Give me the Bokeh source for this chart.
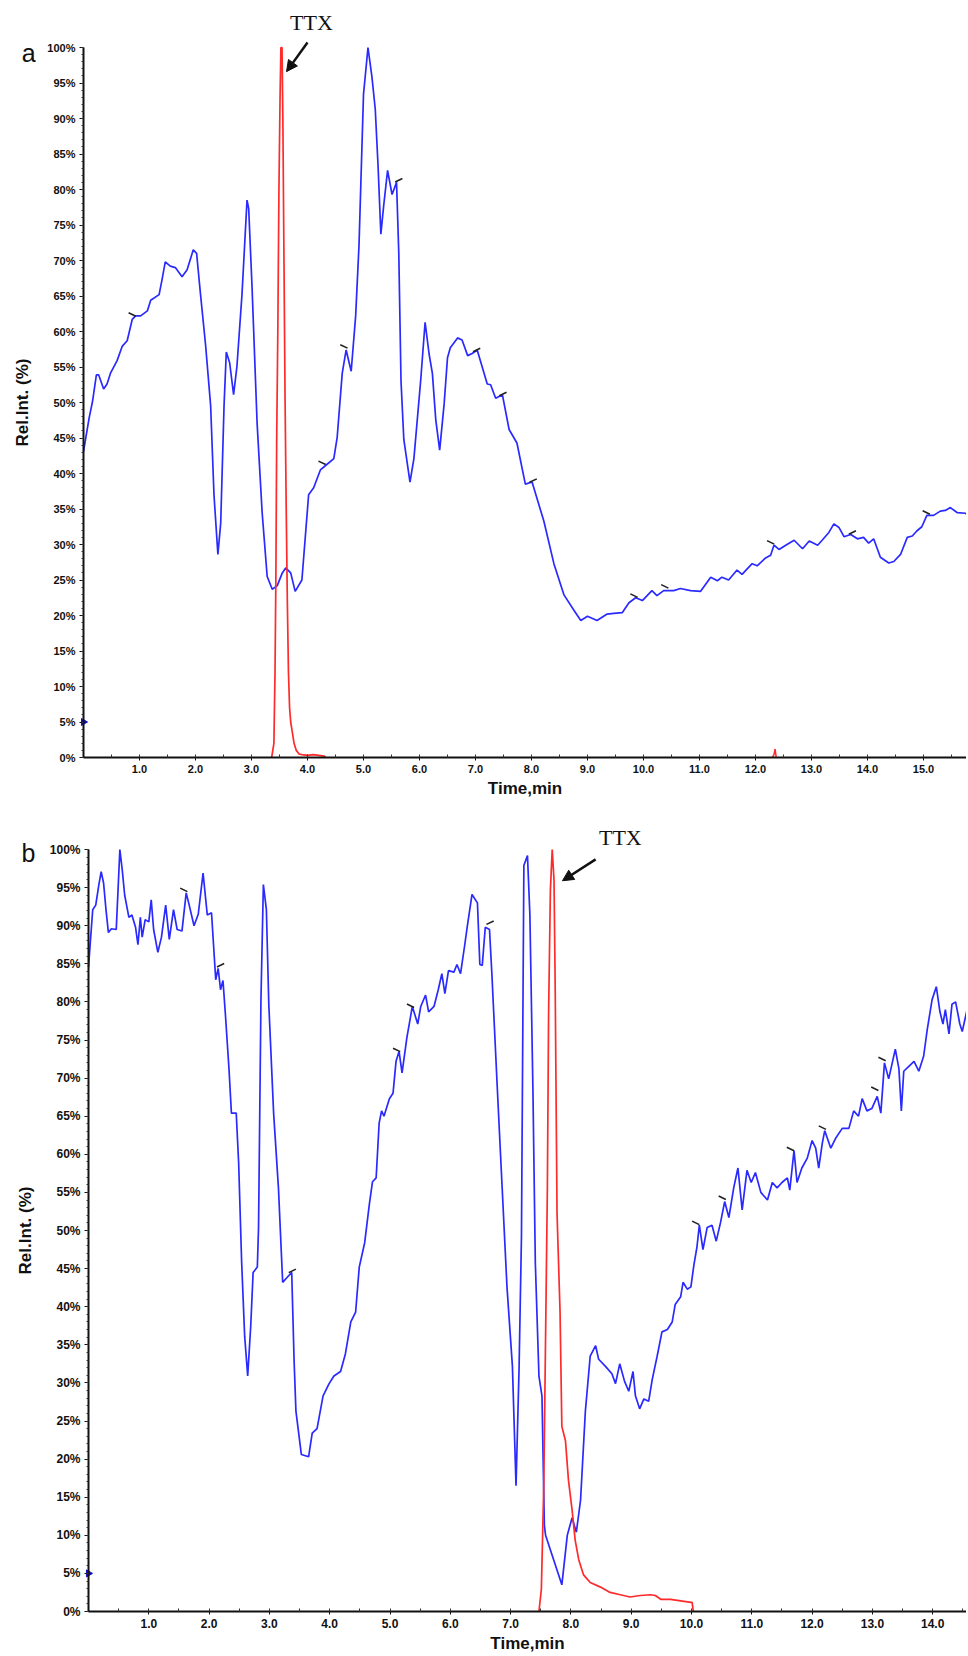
from bokeh.plotting import figure
from bokeh.layouts import column
from bokeh.models import (Range1d, FixedTicker, PrintfTickFormatter, Label, Arrow, NormalHead,
                          LinearAxis)
from bokeh.embed import file_html
from bokeh.resources import INLINE

# ---------------- data: panel a ----------------
a_blue_t = [0.00, 0.10, 0.16, 0.23, 0.27, 0.36, 0.42, 0.48, 0.60, 0.69, 0.78, 0.87, 0.93, 1.02, 1.14, 1.20,
            1.35, 1.40, 1.46, 1.55, 1.64, 1.76, 1.85, 1.96, 2.02, 2.09, 2.18, 2.27, 2.33, 2.40, 2.45, 2.51,
            2.55, 2.61, 2.68, 2.74, 2.83, 2.92, 2.95, 3.01, 3.10, 3.19, 3.28, 3.37, 3.46, 3.55, 3.61, 3.70,
            3.78, 3.90, 4.02, 4.11, 4.23, 4.35, 4.47, 4.53, 4.62, 4.69, 4.78, 4.86, 4.92, 5.00, 5.08, 5.15,
            5.21, 5.26, 5.31, 5.36, 5.43, 5.51, 5.59, 5.63, 5.67, 5.72, 5.83, 5.90, 6.02, 6.10, 6.17, 6.23,
            6.29, 6.36, 6.44, 6.50, 6.55, 6.68, 6.76, 6.86, 6.94, 7.03, 7.21, 7.27, 7.36, 7.48, 7.60, 7.74,
            7.89, 8.01, 8.22, 8.40, 8.58, 8.76, 8.88, 9.00, 9.17, 9.35, 9.47, 9.62, 9.74, 9.86, 9.98, 10.15,
            10.24, 10.36, 10.54, 10.66, 10.84, 11.02, 11.20, 11.32, 11.40, 11.52, 11.67, 11.76, 11.94, 12.03,
            12.18, 12.27, 12.33, 12.42, 12.54, 12.69, 12.84, 12.96, 13.11, 13.19, 13.31, 13.40, 13.49, 13.58,
            13.70, 13.82, 13.93, 14.02, 14.11, 14.23, 14.38, 14.47, 14.59, 14.71, 14.80, 14.88, 14.97, 15.06,
            15.18, 15.30, 15.39, 15.48, 15.60, 15.75, 15.80]
a_blue_pct = [43.1, 47.8, 50.1, 53.9, 53.9, 51.9, 52.6, 54.1, 55.9, 57.9, 58.7, 61.7, 62.2, 62.2, 62.9, 64.4,
              65.2, 67.2, 69.8, 69.2, 69.0, 67.7, 68.7, 71.5, 71.0, 65.2, 58.1, 49.6, 37.0, 28.6, 33.0, 49.6,
              57.1, 55.6, 51.1, 55.1, 65.2, 78.5, 77.3, 66.2, 47.1, 34.5, 25.5, 23.7, 24.2, 26.0, 26.7, 26.0,
              23.4, 25.0, 37.0, 38.0, 40.5, 41.3, 42.1, 45.1, 54.1, 57.4, 54.4, 62.2, 72.2, 93.4, 100.0, 95.9,
              91.3, 83.3, 73.7, 77.7, 82.7, 79.3, 81.0, 71.1, 53.0, 44.8, 38.8, 42.1, 53.0, 61.3, 56.9, 54.1,
              47.6, 43.3, 49.8, 56.3, 57.7, 59.1, 58.8, 56.6, 56.9, 57.4, 52.6, 52.5, 50.6, 51.1, 46.2, 44.3,
              38.5, 38.8, 33.3, 27.3, 22.9, 20.7, 19.3, 19.9, 19.3, 20.2, 20.3, 20.4, 21.8, 22.5, 22.1, 23.5,
              22.8, 23.5, 23.5, 23.8, 23.5, 23.4, 25.4, 24.9, 25.4, 25.0, 26.4, 25.8, 27.3, 27.0,
              28.1, 28.5, 29.9, 29.3, 29.9, 30.6, 29.4, 30.5, 29.9, 30.6, 31.7, 32.9, 32.4, 31.1,
              31.4, 30.8, 31.0, 30.2, 30.8, 28.2, 27.4, 27.6, 28.6, 31.0, 31.2, 31.9, 32.5, 34.1,
              34.1, 34.7, 34.8, 35.2, 34.5, 34.4, 34.0]

a_red_t = [3.36, 3.40, 3.42, 3.435, 3.45, 3.47, 3.49, 3.51, 3.525, 3.545, 3.56, 3.58, 3.60, 3.62, 3.64,
           3.66, 3.68, 3.70, 3.73, 3.76, 3.80, 3.85, 3.90, 4.00, 4.10, 4.20, 4.30, 4.32]
a_red_pct = [0.0, 2.0, 12.0, 25.0, 45.0, 60.0, 80.0, 93.0, 100.0, 100.0, 90.0, 70.0, 50.0, 35.0, 22.0,
             12.0, 7.0, 5.0, 3.5, 2.0, 1.0, 0.5, 0.4, 0.3, 0.4, 0.3, 0.2, 0.0]
a_red2_t = [12.30, 12.33, 12.35, 12.37]
a_red2_pct = [0.0, 0.4, 1.2, 0.0]

# peak-label ticks (small black dashes) in panel a
a_mark_back_t = [0.87, 4.26, 4.65, 9.83, 10.38, 12.27, 15.05]
a_mark_back_pct = [62.4, 41.5, 57.9, 22.8, 24.1, 30.3, 34.5]
a_mark_fwd_t = [5.63, 7.02, 7.49, 8.03, 13.73]
a_mark_fwd_pct = [81.3, 57.4, 51.2, 39.0, 31.7]

# ---------------- data: panel b ----------------
b_blue_t = [0.00, 0.07, 0.12, 0.17, 0.21, 0.25, 0.29, 0.33, 0.38, 0.46, 0.49, 0.52, 0.56, 0.60, 0.67, 0.72,
            0.78, 0.82, 0.86, 0.89, 0.94, 1.00, 1.04, 1.08, 1.15, 1.21, 1.28, 1.34, 1.41, 1.47, 1.55, 1.62,
            1.67, 1.75, 1.82, 1.90, 1.97, 2.04, 2.11, 2.15, 2.19, 2.23, 2.27, 2.33, 2.37, 2.45, 2.49, 2.54,
            2.59, 2.64, 2.69, 2.73, 2.80, 2.82, 2.86, 2.90, 2.95, 2.99, 3.07, 3.15, 3.22, 3.30, 3.37, 3.41,
            3.44, 3.53, 3.65, 3.71, 3.79, 3.89, 3.99, 4.07, 4.18, 4.26, 4.35, 4.43, 4.49, 4.58, 4.66, 4.71,
            4.77, 4.82, 4.86, 4.90, 4.99, 5.05, 5.10, 5.15, 5.20, 5.28, 5.37, 5.46, 5.51, 5.59, 5.64, 5.73,
            5.80, 5.86, 5.91, 5.97, 6.06, 6.11, 6.17, 6.24, 6.28, 6.36, 6.45, 6.49, 6.53, 6.58, 6.65, 6.69,
            6.78, 6.86, 6.94, 7.03, 7.09, 7.14, 7.18, 7.22, 7.28, 7.32, 7.37, 7.41, 7.47, 7.52, 7.56, 7.58,
            7.85, 7.94, 8.02, 8.09, 8.16, 8.24, 8.32, 8.41, 8.46, 8.57, 8.68, 8.74, 8.81, 8.89, 8.96, 9.03,
            9.07, 9.14, 9.21, 9.29, 9.35, 9.43, 9.51, 9.60, 9.68, 9.73, 9.82, 9.86, 9.93, 9.99, 10.04, 10.09,
            10.13, 10.19, 10.26, 10.34, 10.41, 10.48, 10.55, 10.62, 10.70, 10.77, 10.84, 10.92, 10.99, 11.06,
            11.15, 11.26, 11.34, 11.42, 11.50, 11.59, 11.63, 11.70, 11.75, 11.83, 11.92, 12.00, 12.06, 12.11,
            12.17, 12.21, 12.31, 12.39, 12.50, 12.61, 12.69, 12.77, 12.83, 12.91, 12.99, 13.08, 13.14, 13.20,
            13.27, 13.38, 13.44, 13.48, 13.52, 13.60, 13.69, 13.77, 13.85, 13.91, 13.99, 14.06, 14.12, 14.17,
            14.21, 14.27, 14.32, 14.38, 14.45, 14.49, 14.57, 14.60]
b_blue_pct = [84.6, 92.1, 92.7, 95.3, 97.1, 95.6, 92.1, 89.1, 89.6, 89.5, 94.7, 100.0, 97.3, 94.0, 91.1, 91.4,
              89.8, 87.5, 91.1, 88.5, 90.8, 90.5, 93.4, 89.5, 86.5, 88.5, 92.7, 88.2, 92.1, 89.5, 89.3, 94.3,
              92.7, 90.0, 91.5, 96.9, 91.4, 91.7, 82.9, 84.4, 81.6, 82.8, 78.4, 71.2, 65.4, 65.4, 58.9, 45.8,
              36.1, 30.9, 37.4, 44.5, 45.2, 50.4, 80.3, 95.4, 92.1, 79.7, 65.4, 55.6, 43.2, 43.9, 44.5, 32.8,
              26.3, 20.6, 20.3, 23.4, 24.0, 28.3, 29.9, 30.9, 31.5, 33.8, 38.0, 39.3, 45.2, 48.4, 53.6, 56.4,
              56.9, 64.1, 65.7, 65.0, 67.3, 68.0, 72.2, 73.5, 70.7, 75.3, 79.4, 77.1, 79.4, 80.9, 78.7, 79.4,
              81.6, 83.7, 81.1, 84.1, 83.9, 84.9, 83.7, 87.5, 89.8, 94.1, 93.0, 84.9, 84.8, 89.8, 89.5, 83.6,
              68.6, 55.6, 42.6, 32.2, 16.5, 31.8, 49.1, 97.9, 99.2, 91.4, 68.6, 45.8, 30.9, 28.3, 11.3, 10.0,
              3.5, 10.0, 12.3, 10.4, 14.6, 26.3, 33.5, 34.9, 33.1, 32.2, 31.2, 29.9, 32.5, 30.2, 28.9, 31.5,
              28.3, 26.6, 27.9, 27.6, 30.5, 33.5, 36.7, 37.0, 38.0, 40.3, 41.3, 43.2, 42.3, 42.6, 45.5, 47.8,
              50.7, 47.5, 50.4, 50.7, 48.6, 51.0, 53.8, 51.7, 55.6, 58.2, 52.7, 57.9, 56.3, 57.6,
              55.0, 54.0, 56.3, 55.6, 56.3, 56.9, 55.3, 60.5, 56.3, 58.2, 59.5, 61.8, 60.8, 58.2,
              61.5, 63.1, 60.8, 62.1, 63.4, 63.4, 65.7, 65.0, 67.3, 65.7, 66.0, 67.6, 65.4, 72.0,
              69.9, 73.8, 71.2, 65.7, 70.9, 71.5, 72.2, 70.9, 72.9, 76.4, 80.3, 82.0, 78.7, 77.1,
              79.0, 75.8, 79.7, 80.0, 77.1, 76.1, 79.0, 78.0]

b_red_t = [7.47, 7.51, 7.55, 7.58, 7.61, 7.63, 7.66, 7.69, 7.72, 7.74, 7.77, 7.82, 7.85, 7.91, 7.96, 8.02,
           8.07, 8.13, 8.21, 8.32, 8.49, 8.65, 8.82, 8.98, 9.15, 9.32, 9.40, 9.49, 9.65, 9.82, 9.99, 10.01, 10.03]
b_red_pct = [0.0, 2.9, 16.5, 36.0, 55.6, 78.4, 94.7, 100.0, 96.0, 81.6, 52.3, 39.3, 24.3, 22.4, 17.2, 13.3,
             9.4, 6.8, 4.8, 3.8, 3.2, 2.5, 2.2, 1.9, 2.1, 2.2, 2.1, 1.6, 1.6, 1.4, 1.2, 1.2, 0.0]

b_mark_back_t = [1.58, 5.11, 5.34, 10.07, 10.51, 11.64, 12.17, 13.04, 13.16]
b_mark_back_pct = [94.7, 73.7, 79.5, 51.0, 54.3, 60.7, 63.5, 68.6, 72.5]
b_mark_fwd_t = [2.19, 3.38, 6.66]
b_mark_fwd_pct = [84.8, 44.7, 90.4]

# axis ticks / labels
a_x_ticks = [1, 2, 3, 4, 5, 6, 7, 8, 9, 10, 11, 12, 13, 14, 15]
b_x_ticks = [1, 2, 3, 4, 5, 6, 7, 8, 9, 10, 11, 12, 13, 14]
x_minor = [0.5 * i for i in range(0, 33)]
y_ticks = [0, 5, 10, 15, 20, 25, 30, 35, 40, 45, 50, 55, 60, 65, 70, 75, 80, 85, 90, 95, 100]
y_minor = list(range(0, 101))
start_marker_pct = [5]

BLUE = "#2a2aff"
RED = "#ff2a2a"
FONT = "Liberation Sans"
INK = "#111111"
W = 966


def make_panel(width, height, xr, yr, x_ticks, tick_size, label_size):
    # the frame fills the whole canvas; the axes sit at x=0 / y=0 via fixed_location
    p = figure(width=width, height=height, output_backend="svg", toolbar_location=None,
               x_range=Range1d(*xr), y_range=Range1d(*yr),
               x_axis_location=None, y_axis_location=None,
               min_border_left=0, min_border_right=0, min_border_top=0, min_border_bottom=0)
    p.outline_line_color = None
    p.background_fill_color = "white"
    p.border_fill_color = "white"
    p.xgrid.grid_line_color = None
    p.ygrid.grid_line_color = None

    xaxis = LinearAxis(fixed_location=0, bounds=(0, xr[1]),
                       ticker=FixedTicker(ticks=x_ticks, minor_ticks=x_minor),
                       formatter=PrintfTickFormatter(format="%.1f"), axis_label="Time,min")
    yaxis = LinearAxis(fixed_location=0, bounds=(0, 100),
                       ticker=FixedTicker(ticks=y_ticks, minor_ticks=y_minor),
                       formatter=PrintfTickFormatter(format="%d%%"), axis_label="Rel.Int. (%)")
    for ax in (xaxis, yaxis):
        ax.axis_line_color = INK
        ax.axis_line_width = 2
        ax.major_tick_line_color = INK
        ax.minor_tick_line_color = "#333333"
        ax.major_label_text_font = FONT
        ax.major_label_text_font_style = "bold"
        ax.major_label_text_font_size = tick_size
        ax.major_label_text_color = INK
        ax.axis_label_text_font = FONT
        ax.axis_label_text_font_style = "bold"
        ax.axis_label_text_font_size = label_size
        ax.axis_label_text_color = INK
    xaxis.major_tick_in = 0
    xaxis.major_tick_out = 3
    xaxis.minor_tick_in = 3
    xaxis.minor_tick_out = 0
    xaxis.major_label_standoff = 4
    xaxis.axis_label_standoff = 3
    yaxis.major_tick_in = 0
    yaxis.major_tick_out = 4
    yaxis.minor_tick_in = 0
    yaxis.minor_tick_out = 2
    yaxis.major_label_standoff = 4
    yaxis.axis_label_standoff = 12
    p.add_layout(xaxis, "below")
    p.add_layout(yaxis, "left")
    return p


def decorate(p, marks_back, marks_fwd):
    p.scatter(marks_back[0], marks_back[1], marker="dash", size=8, angle=-0.45,
              line_color="#222222", line_width=1.6)
    p.scatter(marks_fwd[0], marks_fwd[1], marker="dash", size=8, angle=0.45,
              line_color="#222222", line_width=1.6)
    p.scatter([0] * len(start_marker_pct), start_marker_pct, marker="triangle", angle=-1.5708,
              size=7, fill_color="#1010c0", line_color="#1010c0")


# ---------- panel a ----------  canvas y 0..800; x=0 at px 83 (56 px/min); 0% at 757, 100% at 47
ax_px, ay_px = 56.0, 7.10
pa = make_panel(W, 800, (-83 / ax_px, (W - 83) / ax_px), (-43 / ay_px, 757 / ay_px),
                a_x_ticks, "11px", "17px")
pa.line(a_blue_t, a_blue_pct, line_color=BLUE, line_width=1.7)
pa.line(a_red_t, a_red_pct, line_color=RED, line_width=1.7)
pa.line(a_red2_t, a_red2_pct, line_color=RED, line_width=1.5)
decorate(pa, (a_mark_back_t, a_mark_back_pct), (a_mark_fwd_t, a_mark_fwd_pct))
pa.add_layout(Label(x=4.07, y=103.5, text="TTX", text_font="Liberation Serif", text_font_size="22px",
                    text_align="center", text_baseline="middle", text_color=INK))
pa.add_layout(Arrow(end=NormalHead(size=11, fill_color=INK, line_color=INK),
                    x_start=4.0, y_start=100.7, x_end=3.625, y_end=96.6,
                    line_color=INK, line_width=2.5))
pa.add_layout(Label(x=-0.98, y=99.2, text="a", text_font=FONT, text_font_size="25px",
                    text_align="center", text_baseline="middle", text_color=INK))

# ---------- panel b ----------  canvas y 800..1652; x=0 at px 88 (60.3 px/min); 0% at 1611, 100% at 849
bx_px, by_px = 60.3, 7.62
pb = make_panel(W, 852, (-88 / bx_px, (W - 88) / bx_px), (-41 / by_px, 811 / by_px),
                b_x_ticks, "12px", "17px")
pb.line(b_blue_t, b_blue_pct, line_color=BLUE, line_width=1.7)
pb.line(b_red_t, b_red_pct, line_color=RED, line_width=1.7)
decorate(pb, (b_mark_back_t, b_mark_back_pct), (b_mark_fwd_t, b_mark_fwd_pct))
pb.add_layout(Label(x=8.82, y=101.6, text="TTX", text_font="Liberation Serif", text_font_size="22px",
                    text_align="center", text_baseline="middle", text_color=INK))
pb.add_layout(Arrow(end=NormalHead(size=11, fill_color=INK, line_color=INK),
                    x_start=8.41, y_start=98.7, x_end=7.86, y_end=95.9,
                    line_color=INK, line_width=2.5))
pb.add_layout(Label(x=-0.995, y=99.6, text="b", text_font=FONT, text_font_size="25px",
                    text_align="center", text_baseline="middle", text_color=INK))

layout = column(pa, pb, spacing=0)
open("out.html", "w").write(file_html(layout, INLINE))
